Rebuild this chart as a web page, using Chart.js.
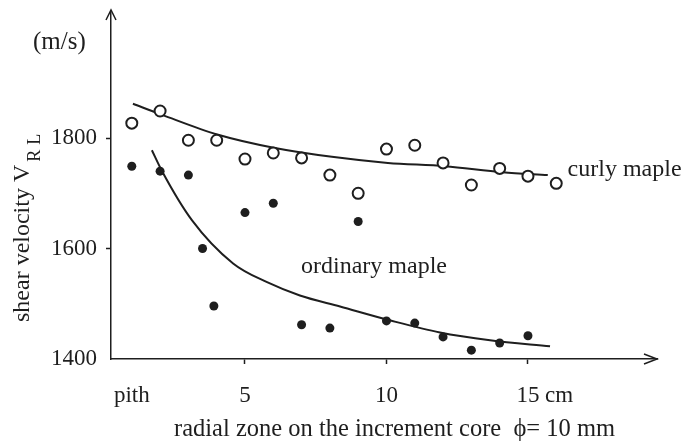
<!DOCTYPE html>
<html>
<head>
<meta charset="utf-8">
<script src="https://cdn.jsdelivr.net/npm/chart.js@4.4.1/dist/chart.umd.min.js"></script>
<style>
  html, body { margin: 0; padding: 0; background: #fff; }
  #wrap { width: 683px; height: 445px; }
</style>
</head>
<body>
<div id="wrap"><canvas id="c"></canvas></div>
<script>
// radial zone (cm from the pith) and shear velocity V_RL (m/s)
const curlyZone = [1, 2, 3, 4, 5, 6, 7, 8, 9, 10, 11, 12, 13, 14, 15, 16];
const curlyVel = [1827, 1849, 1796, 1796, 1762, 1773, 1764, 1733, 1700, 1780, 1787, 1755, 1715, 1745, 1731, 1718];

const ordinaryZone = [1, 2, 3, 3.5, 3.9, 5, 6, 7, 8, 9, 10, 11, 12, 13, 14, 15];
const ordinaryVel = [1749, 1740, 1733, 1600, 1496, 1665, 1682, 1462, 1456, 1649, 1469, 1465, 1440, 1416, 1429, 1442];

// trend curves, sampled along each line
const curlyTrendZone = [1.04, 2.07, 4.05, 6.06, 8.07, 10.05, 12.07, 14.1, 15.7];
const curlyTrendVel = [1862, 1842, 1806, 1782, 1766, 1755, 1749, 1738, 1733];
const ordinaryTrendZone = [1.71, 2.07, 3.13, 4.58, 5.78, 6.94, 8.36, 10.12, 11.89, 13.66, 15.78];
const ordinaryTrendVel = [1778, 1740, 1651, 1573, 1539, 1515, 1495, 1470, 1448, 1434, 1423];

const xTicks = [1, 5, 10, 15];
const xTickLabels = ['pith', '5', '10', '15'];
const yTicks = [1400, 1600, 1800];

const SERIF = "'Liberation Serif', 'Times New Roman', serif";
const INK = '#1e1e1e';

const toPoints = (xs, ys) => xs.map((v, i) => ({ x: v, y: ys[i] }));

// arrow heads, unit, curve names and both axis titles
const decorations = {
  id: 'decorations',
  beforeDraw(chart) {
    const { ctx, width, height } = chart;
    ctx.save();
    ctx.fillStyle = '#ffffff';
    ctx.fillRect(0, 0, width, height);
    ctx.restore();
  },
  afterDraw(chart) {
    const { ctx, chartArea: a, scales: { x, y } } = chart;
    ctx.save();
    ctx.strokeStyle = INK;
    ctx.lineWidth = 1.5;
    ctx.beginPath();
    ctx.moveTo(a.left - 5, a.top + 9);
    ctx.lineTo(a.left, a.top - 1);
    ctx.lineTo(a.left + 5, a.top + 9);
    ctx.moveTo(a.right - 13, a.bottom - 5);
    ctx.lineTo(a.right, a.bottom);
    ctx.lineTo(a.right - 13, a.bottom + 5);
    ctx.stroke();

    ctx.fillStyle = INK;
    ctx.textAlign = 'left';
    ctx.textBaseline = 'alphabetic';
    ctx.font = `25px ${SERIF}`;
    ctx.fillText('(m/s)', 33, 49);
    ctx.font = `23px ${SERIF}`;
    ctx.fillText('cm', x.getPixelForValue(15) + 17, 402);
    ctx.font = `24px ${SERIF}`;
    ctx.fillText('curly maple', x.getPixelForValue(16.4), y.getPixelForValue(1732));
    ctx.fillText('ordinary maple', x.getPixelForValue(6.98), y.getPixelForValue(1556));

    ctx.textAlign = 'center';
    ctx.font = `24.5px ${SERIF}`;
    ctx.fillText('radial zone on the increment core  ϕ= 10 mm', 394.5, 436);

    ctx.textAlign = 'left';
    ctx.translate(29, 322);
    ctx.rotate(-Math.PI / 2);
    ctx.font = `24px ${SERIF}`;
    const main = 'shear velocity V';
    ctx.fillText(main, 0, 0);
    const w = ctx.measureText(main).width;
    ctx.font = `18px ${SERIF}`;
    ctx.letterSpacing = '5px';
    ctx.fillText('RL', w + 3, 11);
    ctx.restore();
  }
};

new Chart(document.getElementById('c'), {
  type: 'scatter',
  data: {
    datasets: [
      {
        label: 'curly maple',
        data: toPoints(curlyZone, curlyVel),
        pointStyle: 'circle',
        pointRadius: 5.5,
        pointBorderWidth: 2,
        pointBackgroundColor: '#ffffff',
        pointBorderColor: INK
      },
      {
        label: 'ordinary maple',
        data: toPoints(ordinaryZone, ordinaryVel),
        pointStyle: 'circle',
        pointRadius: 4.5,
        pointBorderWidth: 0,
        pointBackgroundColor: INK,
        pointBorderColor: INK
      },
      {
        type: 'line',
        label: 'curly trend',
        data: toPoints(curlyTrendZone, curlyTrendVel),
        borderColor: INK,
        borderWidth: 2,
        pointRadius: 0,
        cubicInterpolationMode: 'monotone',
        order: 5
      },
      {
        type: 'line',
        label: 'ordinary trend',
        data: toPoints(ordinaryTrendZone, ordinaryTrendVel),
        borderColor: INK,
        borderWidth: 2,
        pointRadius: 0,
        cubicInterpolationMode: 'monotone',
        order: 5
      }
    ]
  },
  options: {
    responsive: true,
    maintainAspectRatio: false,
    animation: false,
    devicePixelRatio: 1,
    layout: { padding: { top: 11, right: 26, left: 0, bottom: 0 } },
    plugins: {
      legend: { display: false },
      tooltip: { enabled: false }
    },
    scales: {
      x: {
        type: 'linear',
        min: 0.265,
        max: 19.56,
        afterFit: (scale) => {
          scale.height = 86;
          scale.paddingLeft = 0;
          scale.paddingRight = 0;
        },
        afterBuildTicks: (scale) => { scale.ticks = xTicks.map(v => ({ value: v })); },
        border: { display: true, color: INK, width: 1.5 },
        grid: {
          drawOnChartArea: false,
          drawTicks: true,
          tickLength: 5,
          tickWidth: 1.5,
          color: (c) => (c.tick && c.tick.value === 1 ? 'rgba(0,0,0,0)' : INK)
        },
        ticks: {
          color: INK,
          padding: 18,
          maxRotation: 0,
          font: { family: SERIF, size: 23 },
          callback: (v) => xTickLabels[xTicks.indexOf(v)]
        }
      },
      y: {
        type: 'linear',
        min: 1400,
        max: 2030,
        afterFit: (scale) => {
          scale.width = 111;
          scale.paddingTop = 0;
          scale.paddingBottom = 0;
        },
        afterBuildTicks: (scale) => { scale.ticks = yTicks.map(v => ({ value: v })); },
        border: { display: true, color: INK, width: 1.5 },
        grid: {
          drawOnChartArea: false,
          drawTicks: true,
          tickLength: 5,
          tickWidth: 1.5,
          color: (c) => (c.tick && c.tick.value === 1400 ? 'rgba(0,0,0,0)' : INK)
        },
        ticks: {
          color: INK,
          padding: 9,
          font: { family: SERIF, size: 23 },
          callback: (v) => String(v)
        }
      }
    }
  },
  plugins: [decorations]
});
</script>
</body>
</html>
